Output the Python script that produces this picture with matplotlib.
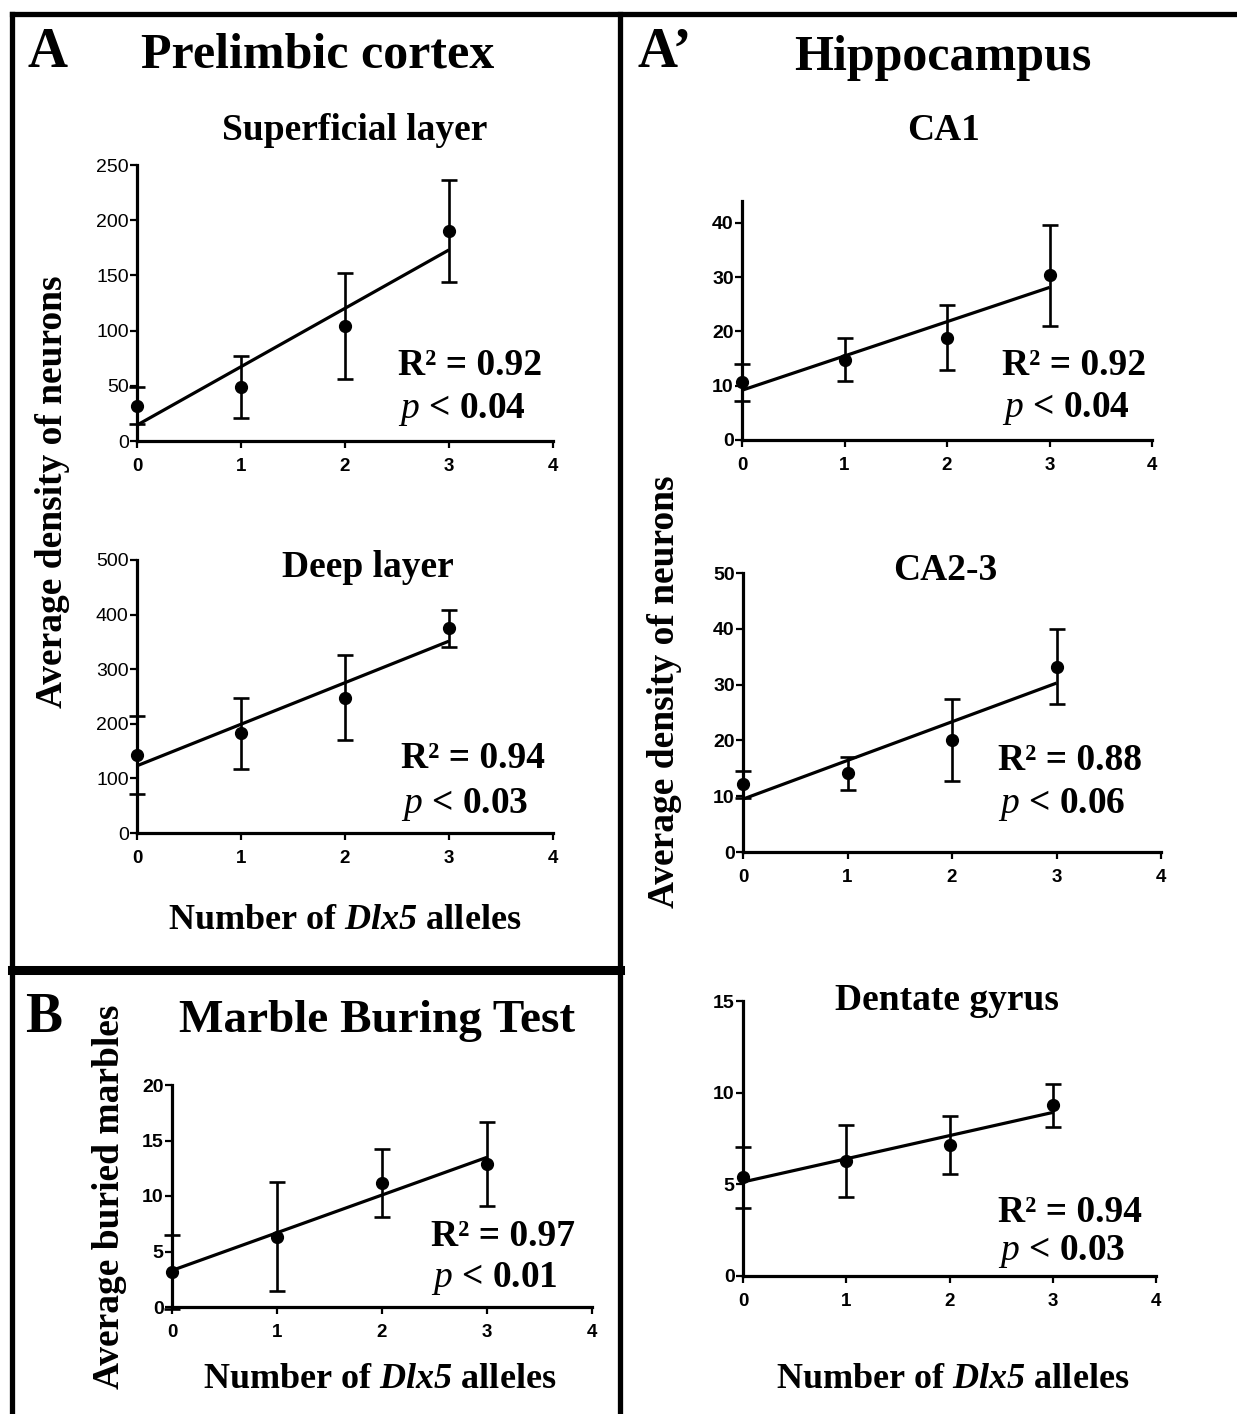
import numpy as np
import matplotlib
matplotlib.use("Agg")
import matplotlib.pyplot as plt
from matplotlib.lines import Line2D

# ---------------- data ----------------
alleles = [0, 1, 2, 3]
xticks = [0, 1, 2, 3, 4]

sup_mean = [32, 49, 104, 190]
sup_err = [17, 28, 48, 46]
sup_stats = ("0.92", "0.04")

deep_mean = [143, 183, 248, 375]
deep_err = [71, 65, 78, 34]
deep_stats = ("0.94", "0.03")

ca1_mean = [10.6, 14.8, 18.8, 30.3]
ca1_err = [3.4, 4.0, 6.0, 9.3]
ca1_stats = ("0.92", "0.04")

ca23_mean = [12.1, 14.1, 20.1, 33.2]
ca23_err = [2.4, 3.0, 7.4, 6.7]
ca23_stats = ("0.88", "0.06")

dg_mean = [5.38, 6.28, 7.13, 9.31]
dg_err = [1.67, 1.98, 1.58, 1.18]
dg_stats = ("0.94", "0.03")

marble_mean = [3.15, 6.35, 11.2, 12.86]
marble_err = [3.35, 4.9, 3.06, 3.77]
marble_stats = ("0.97", "0.01")

# ---------------- style ----------------
plt.rcParams['font.family'] = ['Liberation Serif', 'DejaVu Serif']
plt.rcParams['mathtext.fontset'] = 'custom'
plt.rcParams['mathtext.rm'] = 'Liberation Serif:bold'
plt.rcParams['mathtext.bf'] = 'Liberation Serif:italic:bold'
plt.rcParams['mathtext.sf'] = 'Liberation Serif:italic'

W, H = 1237, 1414
fig = plt.figure(figsize=(W / 100, H / 100), dpi=100)
fig.patch.set_facecolor('white')


def fx(px):
    return px / W


def fy(py):
    return 1 - py / H


def make_axes(l, r, b, t, ymax, ystep, mean, err, stats, rx, rby, pby,
              ybold=True):
    ax = fig.add_axes([fx(l), fy(b), fx(r - l), (b - t) / H])
    ax.set_xlim(0, 4)
    ax.set_ylim(0, ymax)
    for s in ('top', 'right'):
        ax.spines[s].set_visible(False)
    for s in ('left', 'bottom'):
        ax.spines[s].set_linewidth(2.3)
    ax.set_xticks(xticks)
    ax.set_yticks(np.arange(0, ymax + 0.001, ystep))
    ax.set_xticklabels([str(v) for v in xticks], fontfamily='Liberation Sans',
                       fontweight='bold', fontsize=13.5)
    ax.set_yticklabels([f"{v:g}" for v in ax.get_yticks()],
                       fontfamily='Liberation Sans',
                       fontweight='bold' if ybold else 'normal', fontsize=14)
    ax.tick_params(axis='both', direction='out', length=5, width=1.6,
                   colors='black')
    ax.tick_params(axis='x', pad=7)
    ax.tick_params(axis='y', pad=1)
    ax.patch.set_alpha(0)
    x = np.array(alleles, dtype=float)
    m = np.array(mean, dtype=float)
    slope, intercept = np.polyfit(x, m, 1)
    xs = np.array([x.min(), x.max()])
    ax.plot(xs, intercept + slope * xs, color='black', lw=2.3, zorder=3,
            clip_on=False, solid_capstyle='butt')
    ax.errorbar(x, m, yerr=err, fmt='o', color='black', ms=8.5, capsize=6,
                elinewidth=1.9, capthick=1.9, clip_on=False, zorder=4)
    fig.text(fx(rx), fy(rby), f"R\u00b2 = {stats[0]}", fontsize=27,
             fontweight='bold', ha='left', va='baseline')
    fig.text(fx(rx), fy(pby), r"$\mathsf{p}$ < " + stats[1], fontsize=27,
             fontweight='bold', ha='left', va='baseline')
    return ax


make_axes(137, 553, 441, 165, 250, 50, sup_mean, sup_err, sup_stats,
          398, 375, 418, ybold=False)
make_axes(137, 553, 833, 560, 500, 100, deep_mean, deep_err, deep_stats,
          401, 768, 813, ybold=False)
make_axes(742, 1152, 440, 201, 44, 10, ca1_mean, ca1_err, ca1_stats,
          1002, 375, 417)
make_axes(743, 1161, 852, 573, 50, 10, ca23_mean, ca23_err, ca23_stats,
          998, 770, 813)
make_axes(743, 1156, 1276, 1001, 15, 5, dg_mean, dg_err, dg_stats,
          998, 1222, 1260)
make_axes(172, 592, 1307, 1085, 20, 5, marble_mean, marble_err, marble_stats,
          431, 1246, 1287)

# ---------------- titles and labels ----------------
def t(x, y, s, size, **kw):
    fig.text(fx(x), fy(y), s, fontsize=size, fontweight='bold',
             va='baseline', **kw)

t(27, 67, "A", 40, ha='left')
t(318, 67, "Prelimbic cortex", 36, ha='center')
t(638, 67, "A\u2019", 40, ha='left')
t(943, 70, "Hippocampus", 36, ha='center')
t(355, 140, "Superficial layer", 27, ha='center')
t(944, 140, "CA1", 27, ha='center')
t(368, 577, "Deep layer", 27, ha='center')
t(945, 580, "CA2-3", 27, ha='center')
t(947, 1010, "Dentate gyrus", 27, ha='center')
t(25, 1032, "B", 40, ha='left')
t(377, 1032, "Marble Buring Test", 34, ha='center')

xl = r"Number of $\mathbf{Dlx5}$ alleles"
t(345, 929, xl, 26, ha='center')
t(380, 1388, xl, 26, ha='center')
t(953, 1388, xl, 26, ha='center')

fig.text(fx(52), fy(492), "Average density of neurons", fontsize=27,
         fontweight='bold', rotation=90, ha='center', va='center')
fig.text(fx(664), fy(692), "Average density of neurons", fontsize=27,
         fontweight='bold', rotation=90, ha='center', va='center')
fig.text(fx(110), fy(1197), "Average buried marbles", fontsize=27,
         fontweight='bold', rotation=90, ha='center', va='center')

# ---------------- panel borders ----------------
def seg(x0, y0, x1, y1, lw):
    fig.add_artist(Line2D([fx(x0), fx(x1)], [fy(y0), fy(y1)],
                          transform=fig.transFigure, color='black', lw=lw,
                          solid_capstyle='projecting'))

seg(12, 14, 1237, 14, 3.8)
seg(12, 14, 12, 1414, 3.8)
seg(620, 14, 620, 1414, 3.8)
seg(12, 970, 620, 970, 6.5)

fig.savefig("out.png", dpi=100, facecolor='white')
